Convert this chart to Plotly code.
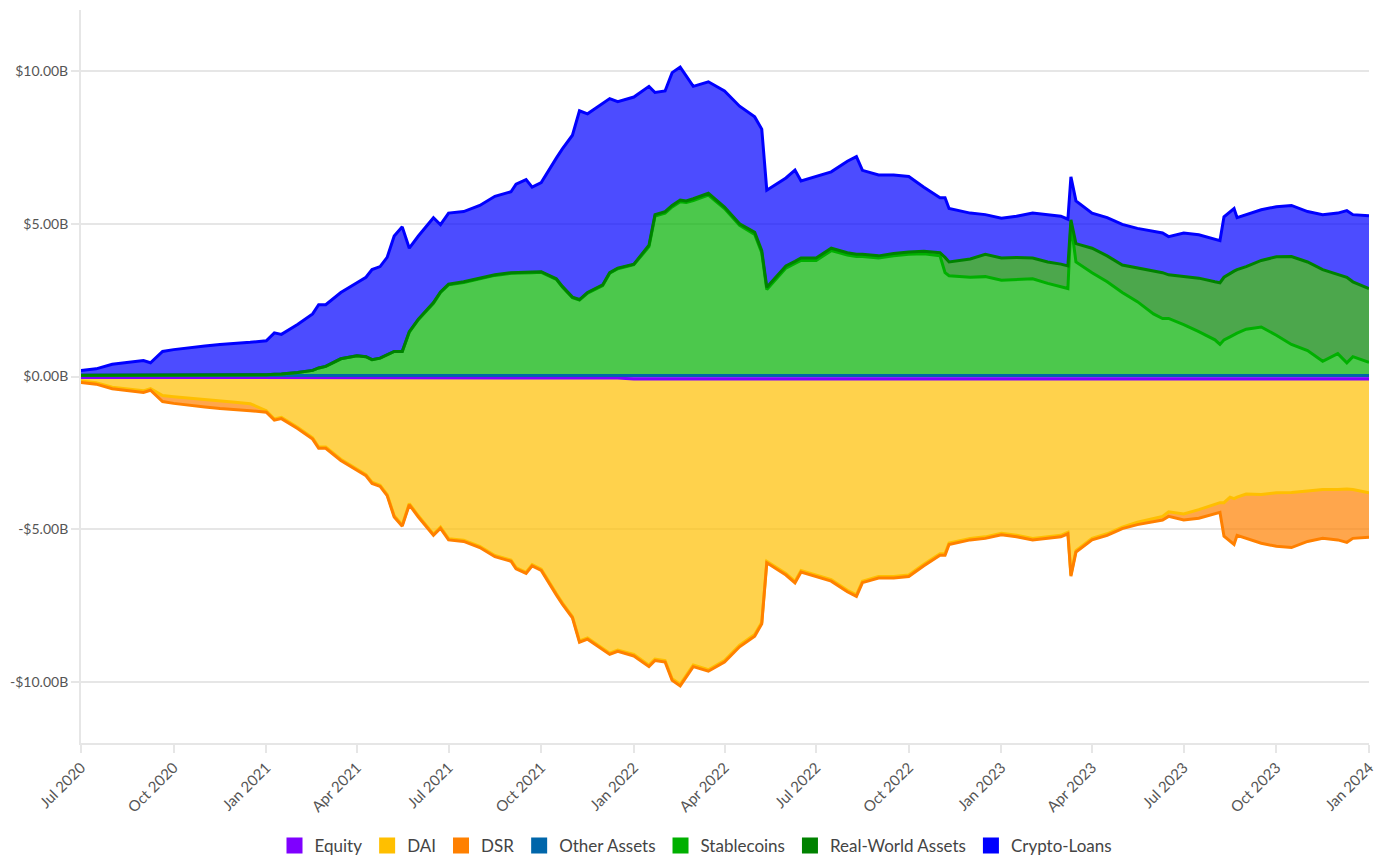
import plotly.graph_objects as go

# dates (roughly twice a month, extra points around the big moves)
dates = [
    "2020-07-01", "2020-07-16", "2020-08-01", "2020-08-16", "2020-09-01", "2020-09-08",
    "2020-09-20", "2020-10-01", "2020-10-16", "2020-11-01", "2020-11-16", "2020-12-01",
    "2020-12-16", "2021-01-01", "2021-01-09", "2021-01-16", "2021-02-01", "2021-02-16",
    "2021-02-22", "2021-03-01", "2021-03-16", "2021-04-01", "2021-04-10", "2021-04-16",
    "2021-04-24", "2021-05-01", "2021-05-08", "2021-05-16", "2021-05-23", "2021-06-01",
    "2021-06-16", "2021-06-23", "2021-07-01", "2021-07-16", "2021-08-01", "2021-08-16",
    "2021-09-01", "2021-09-06", "2021-09-16", "2021-09-22", "2021-10-01", "2021-10-16",
    "2021-10-22", "2021-11-01", "2021-11-08", "2021-11-16", "2021-12-01", "2021-12-08",
    "2021-12-16", "2022-01-01", "2022-01-16", "2022-01-22", "2022-02-01", "2022-02-08",
    "2022-02-16", "2022-02-22", "2022-03-01", "2022-03-16", "2022-04-01", "2022-04-16",
    "2022-05-01", "2022-05-08", "2022-05-13", "2022-06-01", "2022-06-10", "2022-06-16",
    "2022-07-01", "2022-07-16", "2022-08-01", "2022-08-10", "2022-08-16", "2022-09-01",
    "2022-09-16", "2022-10-01", "2022-10-16", "2022-11-01", "2022-11-06", "2022-11-10",
    "2022-12-01", "2022-12-16", "2023-01-01", "2023-01-16", "2023-02-01", "2023-02-16",
    "2023-03-01", "2023-03-08", "2023-03-11", "2023-03-16", "2023-04-01", "2023-04-16",
    "2023-05-01", "2023-05-16", "2023-06-01", "2023-06-10", "2023-06-16", "2023-07-01",
    "2023-07-16", "2023-08-01", "2023-08-06", "2023-08-10", "2023-08-16", "2023-08-20",
    "2023-08-23", "2023-09-01", "2023-09-16", "2023-10-01", "2023-10-16", "2023-11-01",
    "2023-11-16", "2023-12-01", "2023-12-10", "2023-12-16", "2024-01-01",
]

# assets, $B
other_assets = [
    0.03, 0.03, 0.03, 0.03, 0.03, 0.03, 0.03, 0.03, 0.03, 0.03, 0.03, 0.03,
    0.03, 0.03, 0.03, 0.03, 0.03, 0.03, 0.03, 0.03, 0.03, 0.03, 0.03, 0.03,
    0.03, 0.03, 0.03, 0.03, 0.03, 0.03, 0.03, 0.03, 0.03, 0.03, 0.03, 0.03,
    0.03, 0.03, 0.03, 0.03, 0.03, 0.03, 0.03, 0.03, 0.03, 0.03, 0.03, 0.03,
    0.03, 0.03, 0.03, 0.03, 0.03, 0.03, 0.03, 0.03, 0.03, 0.03, 0.03, 0.03,
    0.03, 0.03, 0.03, 0.03, 0.03, 0.03, 0.03, 0.03, 0.03, 0.03, 0.03, 0.03,
    0.03, 0.03, 0.03, 0.03, 0.03, 0.03, 0.03, 0.03, 0.03, 0.03, 0.03, 0.03,
    0.03, 0.03, 0.03, 0.03, 0.03, 0.03, 0.03, 0.03, 0.03, 0.03, 0.03, 0.03,
    0.03, 0.03, 0.03, 0.03, 0.03, 0.03, 0.03, 0.03, 0.03, 0.03, 0.03, 0.03,
    0.03, 0.03, 0.03, 0.03, 0.03,
]
stablecoins = [
    0.01, 0.01, 0.02, 0.02, 0.02, 0.02, 0.02, 0.02, 0.02, 0.02, 0.02, 0.02,
    0.02, 0.03, 0.04, 0.05, 0.10, 0.17, 0.25, 0.30, 0.55, 0.65, 0.62, 0.52,
    0.57, 0.67, 0.79, 0.79, 1.42, 1.83, 2.37, 2.72, 2.97, 3.05, 3.17, 3.28,
    3.35, 3.35, 3.35, 3.37, 3.38, 3.15, 2.90, 2.55, 2.47, 2.70, 2.95, 3.35,
    3.50, 3.63, 4.22, 5.22, 5.32, 5.52, 5.69, 5.67, 5.73, 5.91, 5.47, 4.92,
    4.62, 4.02, 2.82, 3.52, 3.67, 3.77, 3.77, 4.09, 3.95, 3.90, 3.90, 3.85,
    3.92, 3.97, 3.99, 3.92, 3.37, 3.27, 3.22, 3.24, 3.12, 3.15, 3.17, 3.02,
    2.92, 2.85, 5.00, 3.72, 3.37, 3.07, 2.72, 2.42, 2.02, 1.87, 1.87, 1.67,
    1.44, 1.17, 1.02, 1.17, 1.27, 1.34, 1.39, 1.52, 1.59, 1.32, 1.02, 0.82,
    0.47, 0.72, 0.42, 0.62, 0.43,
]
real_world_assets = [
    0.00, 0.00, 0.00, 0.00, 0.00, 0.00, 0.00, 0.00, 0.00, 0.00, 0.00, 0.00,
    0.00, 0.00, 0.00, 0.00, 0.00, 0.00, 0.00, 0.00, 0.00, 0.00, 0.00, 0.00,
    0.00, 0.00, 0.00, 0.00, 0.02, 0.02, 0.02, 0.02, 0.02, 0.02, 0.02, 0.02,
    0.02, 0.02, 0.02, 0.02, 0.02, 0.02, 0.02, 0.02, 0.02, 0.02, 0.02, 0.02,
    0.02, 0.02, 0.05, 0.05, 0.05, 0.05, 0.06, 0.05, 0.06, 0.06, 0.05, 0.05,
    0.07, 0.07, 0.07, 0.07, 0.07, 0.08, 0.08, 0.08, 0.07, 0.07, 0.07, 0.07,
    0.08, 0.08, 0.08, 0.10, 0.50, 0.45, 0.60, 0.73, 0.73, 0.72, 0.68, 0.70,
    0.73, 0.74, 0.10, 0.60, 0.80, 0.85, 0.90, 1.10, 1.40, 1.50, 1.43, 1.58,
    1.75, 1.90, 2.02, 2.05, 2.08, 2.08, 2.08, 2.05, 2.18, 2.57, 2.88, 2.90,
    3.00, 2.60, 2.80, 2.45, 2.42,
]
crypto_loans = [
    0.16, 0.21, 0.35, 0.41, 0.47, 0.40, 0.77, 0.83, 0.90, 0.95, 1.00, 1.03,
    1.07, 1.11, 1.36, 1.30, 1.57, 1.85, 2.07, 2.02, 2.17, 2.39, 2.60, 2.95,
    3.00, 3.20, 3.78, 4.08, 2.73, 2.72, 2.78, 2.20, 2.33, 2.30, 2.38, 2.57,
    2.65, 2.90, 3.05, 2.78, 2.92, 3.95, 4.50, 5.30, 6.18, 5.85, 5.95, 5.70,
    5.45, 5.47, 5.20, 4.00, 3.95, 4.35, 4.35, 4.10, 3.68, 3.65, 3.80, 3.85,
    3.78, 3.98, 3.18, 2.88, 2.99, 2.52, 2.67, 2.50, 3.00, 3.20, 2.75, 2.65,
    2.57, 2.47, 2.10, 1.80, 1.95, 1.75, 1.50, 1.30, 1.30, 1.35, 1.47, 1.55,
    1.57, 1.53, 1.41, 1.40, 1.15, 1.25, 1.33, 1.30, 1.30, 1.30, 1.25, 1.42,
    1.42, 1.40, 1.38, 1.98, 2.02, 2.05, 1.70, 1.70, 1.66, 1.64, 1.67, 1.65,
    1.80, 2.00, 2.18, 2.20, 2.38,
]

# liabilities and equity, $B (negative side)
equity = [
    -0.03, -0.03, -0.03, -0.03, -0.03, -0.03, -0.03, -0.03, -0.03, -0.03, -0.03, -0.03,
    -0.03, -0.05, -0.05, -0.05, -0.05, -0.05, -0.05, -0.05, -0.05, -0.05, -0.05, -0.05,
    -0.05, -0.05, -0.05, -0.05, -0.05, -0.05, -0.05, -0.05, -0.05, -0.05, -0.05, -0.05,
    -0.05, -0.05, -0.05, -0.05, -0.05, -0.05, -0.05, -0.05, -0.05, -0.05, -0.05, -0.05,
    -0.05, -0.08, -0.08, -0.08, -0.08, -0.08, -0.08, -0.08, -0.08, -0.08, -0.08, -0.08,
    -0.08, -0.08, -0.08, -0.08, -0.08, -0.08, -0.08, -0.08, -0.08, -0.08, -0.08, -0.08,
    -0.08, -0.08, -0.08, -0.08, -0.08, -0.08, -0.08, -0.08, -0.08, -0.08, -0.08, -0.08,
    -0.08, -0.08, -0.08, -0.08, -0.08, -0.08, -0.08, -0.08, -0.08, -0.08, -0.08, -0.08,
    -0.08, -0.08, -0.08, -0.08, -0.08, -0.08, -0.08, -0.08, -0.08, -0.08, -0.08, -0.08,
    -0.08, -0.08, -0.08, -0.08, -0.08,
]
dai = [
    -0.12, -0.17, -0.32, -0.38, -0.44, -0.37, -0.59, -0.63, -0.67, -0.72, -0.77, -0.81,
    -0.86, -1.07, -1.34, -1.29, -1.61, -1.96, -2.26, -2.26, -2.66, -2.98, -3.16, -3.41,
    -3.51, -3.81, -4.51, -4.81, -4.11, -4.51, -5.11, -4.88, -5.26, -5.31, -5.51, -5.81,
    -5.96, -6.21, -6.36, -6.11, -6.26, -7.06, -7.36, -7.81, -8.61, -8.51, -8.86, -9.01,
    -8.91, -9.02, -9.37, -9.17, -9.22, -9.82, -10.00, -9.72, -9.37, -9.52, -9.22, -8.72,
    -8.37, -7.97, -5.97, -6.37, -6.63, -6.27, -6.42, -6.57, -6.92, -7.07, -6.62, -6.47,
    -6.47, -6.42, -6.07, -5.72, -5.72, -5.37, -5.22, -5.17, -5.05, -5.12, -5.22, -5.17,
    -5.12, -5.02, -6.41, -5.62, -5.22, -5.07, -4.85, -4.69, -4.57, -4.50, -4.35, -4.42,
    -4.28, -4.10, -4.05, -4.05, -3.87, -3.92, -3.87, -3.77, -3.78, -3.73, -3.72, -3.67,
    -3.62, -3.62, -3.60, -3.62, -3.73,
]
dsr = [
    -0.05, -0.05, -0.05, -0.05, -0.05, -0.05, -0.20, -0.22, -0.25, -0.25, -0.25, -0.24,
    -0.23, -0.05, -0.04, -0.04, -0.04, -0.04, -0.04, -0.04, -0.04, -0.04, -0.04, -0.04,
    -0.04, -0.04, -0.04, -0.04, -0.04, -0.04, -0.04, -0.04, -0.04, -0.04, -0.04, -0.04,
    -0.04, -0.04, -0.04, -0.04, -0.04, -0.04, -0.04, -0.04, -0.04, -0.04, -0.04, -0.04,
    -0.04, -0.05, -0.05, -0.05, -0.05, -0.05, -0.05, -0.05, -0.05, -0.05, -0.05, -0.05,
    -0.05, -0.05, -0.05, -0.05, -0.05, -0.05, -0.05, -0.05, -0.05, -0.05, -0.05, -0.05,
    -0.05, -0.05, -0.05, -0.05, -0.05, -0.05, -0.05, -0.05, -0.05, -0.05, -0.05, -0.05,
    -0.05, -0.05, -0.05, -0.05, -0.05, -0.05, -0.05, -0.08, -0.10, -0.12, -0.15, -0.20,
    -0.28, -0.32, -0.32, -1.10, -1.45, -1.50, -1.25, -1.45, -1.60, -1.75, -1.80, -1.65,
    -1.60, -1.65, -1.75, -1.60, -1.45,
]

y_ticks = [-10, -5, 0, 5, 10]
y_tick_labels = ["-$10.00B", "-$5.00B", "$0.00B", "$5.00B", "$10.00B"]

series = [
    ("Equity", equity, "neg", (127, 0, 255)),
    ("DAI", dai, "neg", (255, 191, 0)),
    ("DSR", dsr, "neg", (255, 128, 0)),
    ("Other Assets", other_assets, "pos", (0, 102, 170)),
    ("Stablecoins", stablecoins, "pos", (0, 176, 0)),
    ("Real-World Assets", real_world_assets, "pos", (0, 130, 0)),
    ("Crypto-Loans", crypto_loans, "pos", (0, 0, 255)),
]

fig = go.Figure()
for name, vals, group, (r, g, b) in series:
    fig.add_trace(go.Scatter(
        x=dates, y=vals,
        name=name,
        mode="lines",
        stackgroup=group,
        line=dict(color=f"rgb({r},{g},{b})", width=3),
        fillcolor=f"rgba({r},{g},{b},0.7)",
        showlegend=False,
        legendgroup=name,
    ))

# legend entries as solid squares like the original
for name, vals, group, (r, g, b) in series:
    fig.add_trace(go.Scatter(
        x=[None], y=[None],
        name=name,
        mode="markers",
        marker=dict(symbol="square", size=20, color=f"rgb({r},{g},{b})"),
        legendgroup=name,
    ))

# page body has an 8px margin, so size the figure to the visible window
grid = "#e6e6e6"
fig.update_layout(
    width=1376, height=849,
    margin=dict(l=73, r=15, t=2, b=114),
    paper_bgcolor="white",
    plot_bgcolor="white",
    font=dict(family="Lato, Noto Sans, sans-serif", size=15, color="#555555"),
    showlegend=True,
    legend=dict(
        orientation="h",
        traceorder="normal",
        x=0.5, xanchor="center",
        xref="container",
        y=0.013, yanchor="middle",
        yref="container",
        font=dict(size=17, color="#444444"),
        itemwidth=30,
    ),
    xaxis=dict(
        type="date",
        range=["2020-07-01", "2024-01-01"],
        tick0="2020-07-01",
        dtick="M3",
        tickformat="%b %Y",
        tickangle=-45,
        showgrid=False,
        showline=True,
        linecolor=grid,
        linewidth=2,
        ticks="outside",
        tickcolor=grid,
        ticklen=8,
        tickwidth=2,
        automargin=False,
        tickfont=dict(size=15, color="#555555"),
    ),
    yaxis=dict(
        range=[-12, 12],
        tickvals=y_ticks,
        ticktext=y_tick_labels,
        showgrid=True,
        gridcolor=grid,
        gridwidth=1.5,
        zeroline=False,
        showline=True,
        linecolor=grid,
        linewidth=2,
        ticks="outside",
        tickcolor=grid,
        ticklen=8,
        tickwidth=2,
        automargin=False,
        tickfont=dict(size=14, color="#555555"),
    ),
)

fig.write_html("out.html")
